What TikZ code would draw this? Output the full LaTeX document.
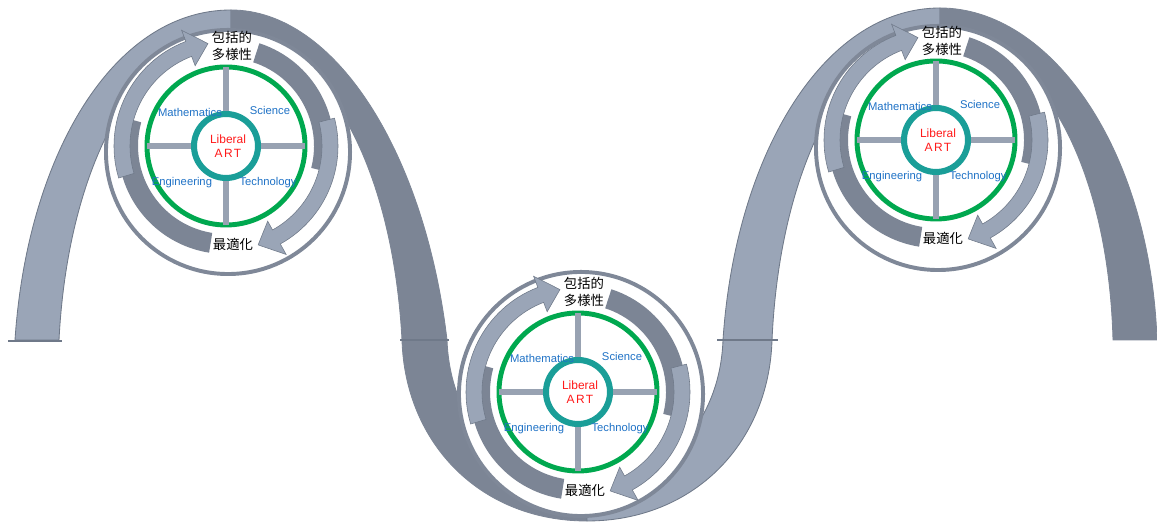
\documentclass[tikz,border=0pt]{standalone}
\usepackage{fontspec}
\newfontfamily\jpfont{Noto Sans CJK JP}
\newfontfamily\labelfont{Liberation Sans}
\usepackage{xcolor}
\definecolor{bandLight}{HTML}{9AA5B7}
\definecolor{bandDark}{HTML}{7C8595}
\definecolor{bandEdge}{HTML}{6F7989}
\definecolor{ringGray}{HTML}{7F8898}
\definecolor{ringGreen}{HTML}{00A84F}
\definecolor{ringTeal}{HTML}{1A9E98}
\definecolor{spokeGray}{HTML}{98A2B2}
\definecolor{stemBlue}{HTML}{1F72C6}
\definecolor{artRed}{HTML}{FF1A1A}

\tikzset{
  bandlight/.style={fill=bandLight, draw=bandEdge, line width=0.6pt},
  banddark/.style={fill=bandDark, draw=bandDark, line width=0.6pt},
  seam/.style={draw=bandEdge, line width=0.8pt},
  outerring/.style={circle, draw=ringGray, line width=2.8pt, fill=white, minimum size=6.1cm, inner sep=0pt},
  greenring/.style={circle, draw=ringGreen, line width=3.5pt, minimum size=3.95cm, inner sep=0pt, outer sep=0pt},
  tealring/.style={circle, draw=ringTeal, line width=4.3pt, minimum size=1.6cm, inner sep=0pt},
  spoke/.style={spokeGray, line width=4.3pt},
  stem/.style={font=\labelfont\fontsize{8}{9}\selectfont, text=stemBlue, inner sep=0pt},
  liberal/.style={font=\labelfont\fontsize{8.5}{10}\selectfont, text=artRed, align=center, inner sep=0pt},
  jp/.style={font=\jpfont\fontsize{9.5}{12}\selectfont, align=center, inner sep=0pt},
}

% circular arrow round a centre: #1 centre, #2 start angle, #3 tip angle (clockwise)
\newcommand{\cyclearrow}[3]{%
  \pgfmathsetmacro{\arrD}{#2-0.6*(#2-(#3))}%
  \pgfmathsetmacro{\arrL}{#2-0.4*(#2-(#3))}%
  \pgfmathsetmacro{\arrH}{#3+11}%
  \fill[bandDark] ([shift={(#2:108)}]#1) arc[start angle=#2, end angle=\arrD, radius=108]
    -- ([shift={(\arrD:88)}]#1) arc[start angle=\arrD, end angle=#2, radius=88] -- cycle;
  \filldraw[fill=bandLight, draw=bandEdge, line width=0.4pt]
    ([shift={(\arrL:112)}]#1) arc[start angle=\arrL, end angle=\arrH, radius=112]
    -- ([shift={(\arrH:124)}]#1) -- ([shift={(#3:104)}]#1) -- ([shift={(\arrH:86)}]#1)
    -- ([shift={(\arrH:96)}]#1) arc[start angle=\arrH, end angle=\arrL, radius=96] -- cycle;
}

\begin{document}
\begin{tikzpicture}[x=0.025cm, y=0.025cm]
  \useasboundingbox (0,0) rectangle (1157,523);

  % the wave
  \path[bandlight] (15,183) .. controls (27,365) and (112,513) .. (231,513) -- (231,488) .. controls (140,488) and (68,360) .. (59,183) -- cycle;
  \path[banddark] (231,513) .. controls (335,513) and (425,370) .. (447,183) -- (402,183) .. controls (392,370) and (315,488) .. (231,488) -- cycle;
  \path[banddark] (402,183) .. controls (405,80) and (480,2) .. (587,2) -- (587,40) .. controls (505,40) and (450,100) .. (447,183) -- cycle;
  \path[bandlight] (587,2) .. controls (694,2) and (769,80) .. (772,183) -- (723,183) .. controls (720,100) and (664,40) .. (587,40) -- cycle;
  \path[bandlight] (723,183) .. controls (735,365) and (822,515) .. (940,515) -- (940,490) .. controls (850,490) and (780,360) .. (772,183) -- cycle;
  \path[banddark] (940,515) .. controls (1050,515) and (1150,375) .. (1157,183) -- (1113,183) .. controls (1108,370) and (1030,490) .. (940,490) -- cycle;
  \draw[seam] (8,182) -- (62,182);
  \draw[seam] (400,183) -- (449,183);
  \draw[seam] (717,183) -- (778,183);

  \coordinate (c1) at (226,377);
  \coordinate (c2) at (578,131);
  \coordinate (c3) at (936,383);

  \node[outerring] (o1) at (228,371) {};
  \node[outerring] (o2) at (581,129) {};
  \node[outerring] (o3) at (938,375) {};

  \cyclearrow{c1}{261}{100}
  \cyclearrow{c1}{72}{-72}
  \cyclearrow{c2}{261}{100}
  \cyclearrow{c2}{72}{-72}
  \cyclearrow{c3}{261}{100}
  \cyclearrow{c3}{72}{-72}

  % unit 1
  \node[greenring] (g1) at (c1) {};
  \node[tealring] (t1) at (c1) {};
  \draw[spoke] (t1.north) -- (g1.north);
  \draw[spoke] (t1.south) -- (g1.south);
  \draw[spoke] (t1.west) -- (g1.west);
  \draw[spoke] (t1.east) -- (g1.east);
  \node[liberal] (lib1) at (228,377) {Liberal\\\addfontfeature{LetterSpace=12}ART};
  \node[stem] (math1) at (190,411) {Mathematics};
  \node[stem] (sci1) at (270,413) {Science};
  \node[stem] (eng1) at (182,340) {Engineering};
  \node[stem] (tech1) at (268,340) {Technology};
  \node[jp] (top1) at (232,477) {包括的\\多様性};
  \node[jp] (bot1) at (233,279) {最適化};

  % unit 2
  \node[greenring] (g2) at (c2) {};
  \node[tealring] (t2) at (c2) {};
  \draw[spoke] (t2.north) -- (g2.north);
  \draw[spoke] (t2.south) -- (g2.south);
  \draw[spoke] (t2.west) -- (g2.west);
  \draw[spoke] (t2.east) -- (g2.east);
  \node[liberal] (lib2) at (580,131) {Liberal\\\addfontfeature{LetterSpace=12}ART};
  \node[stem] (math2) at (542,165) {Mathematics};
  \node[stem] (sci2) at (622,167) {Science};
  \node[stem] (eng2) at (534,94) {Engineering};
  \node[stem] (tech2) at (620,94) {Technology};
  \node[jp] (top2) at (584,231) {包括的\\多様性};
  \node[jp] (bot2) at (585,33) {最適化};

  % unit 3
  \node[greenring] (g3) at (c3) {};
  \node[tealring] (t3) at (c3) {};
  \draw[spoke] (t3.north) -- (g3.north);
  \draw[spoke] (t3.south) -- (g3.south);
  \draw[spoke] (t3.west) -- (g3.west);
  \draw[spoke] (t3.east) -- (g3.east);
  \node[liberal] (lib3) at (938,383) {Liberal\\\addfontfeature{LetterSpace=12}ART};
  \node[stem] (math3) at (900,417) {Mathematics};
  \node[stem] (sci3) at (980,419) {Science};
  \node[stem] (eng3) at (892,346) {Engineering};
  \node[stem] (tech3) at (978,346) {Technology};
  \node[jp] (top3) at (942,482) {包括的\\多様性};
  \node[jp] (bot3) at (943,285) {最適化};
\end{tikzpicture}
\end{document}
